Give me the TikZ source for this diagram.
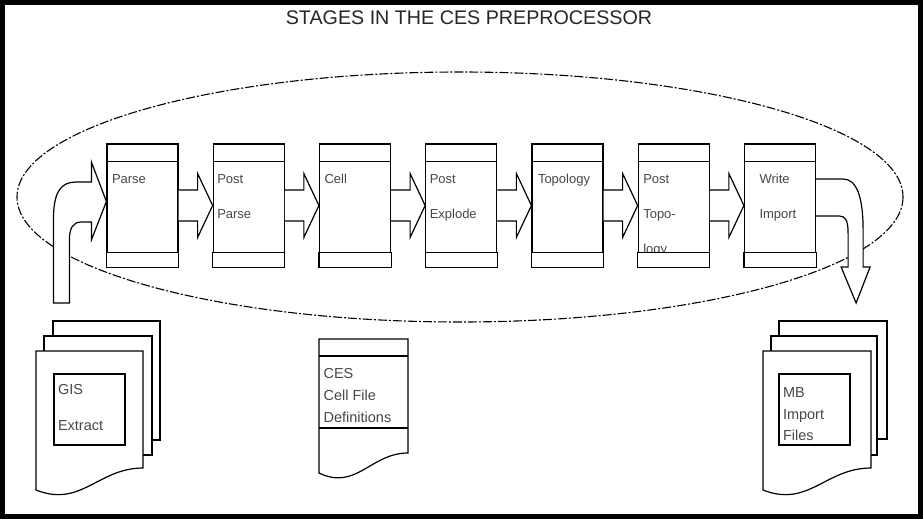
\documentclass[tikz,border=0pt]{standalone}
\usepackage{fontspec}
\setmainfont{Liberation Sans}
\usepackage{tikz}
\usetikzlibrary{calc}
\tikzstyle{stage}=[draw,fill=white,inner sep=0,minimum width=71pt,minimum height=123pt]
\tikzstyle{stagetxt}=[anchor=north west,inner sep=0,align=left,text=black!72,font=\fontsize{13}{35}\selectfont]
\tikzstyle{doctxt}=[anchor=north west,inner sep=0,align=left,text=black!72]
\tikzstyle{sheet}=[draw,fill=white]
\tikzstyle{blockarrow}=[draw,fill=white,line join=miter]
\tikzstyle{ring}=[dash pattern=on 9pt off 2pt on 2pt off 2pt,line width=1.1pt]

\begin{document}
\begin{tikzpicture}[x=1pt,y=-1pt,line width=1.2pt]
\newcommand{\stagestep}{106.25}
\newcommand{\bands}[1]{%
  \draw ($(#1.north west)+(0,18)$) -- ($(#1.north east)+(0,18)$);
  \draw[fill=white] ($(#1.south west)+(0,-15)$) rectangle (#1.south east);}
\newcommand{\steparrow}[2]{%
  \draw[blockarrow] ($(#1.east)+(0,-15.5)$) -- ++(19,0) -- ++(0,-16.5) -- (#2.west)
    -- ($(#1.east)+(19,32)$) -- ++(0,-16.5) -- ($(#1.east)+(0,15.5)$);}
\newcommand{\wavypage}[5]{%
  \draw[sheet] (#1,#2) -- (#3,#2) -- (#3,#4)
    .. controls ({#3-0.42*(#3-#1)},#4) and ({#1+0.42*(#3-#1)},#5+18) .. (#1,#5) -- cycle;}

\useasboundingbox (0,0) rectangle (923,519);
\draw[line width=5pt] (2.5,2.5) rectangle (920.5,516.5);
\node[text=black!85] (title) at (469,18) {\fontsize{19.7}{24}\selectfont STAGES IN THE CES PREPROCESSOR};

%the loop round the stages
\draw[ring] (460,197) ellipse [x radius=443, y radius=125];

\path (142.5,205.5) node[stage] (parse) {}
      ++(\stagestep,0) node[stage] (postparse) {}
      ++(\stagestep,0) node[stage] (cell) {}
      ++(\stagestep,0) node[stage] (postexplode) {}
      ++(\stagestep,0) node[stage] (topology) {}
      ++(\stagestep,0) node[stage] (posttopology) {}
      ++(\stagestep,0) node[stage] (writeimport) {};

\steparrow{parse}{postparse}
\steparrow{postparse}{cell}
\steparrow{cell}{postexplode}
\steparrow{postexplode}{topology}
\steparrow{topology}{posttopology}
\steparrow{posttopology}{writeimport}

% arrow in from the extract
\begin{scope}[shift={(parse.west)}]
\draw[blockarrow] (-53,97.5) -- (-53,15) .. controls (-53,-15) and (-45,-23.5) .. (-30,-23.5)
  -- (-15,-23.5) -- (-15,-43.5) -- (0,-4) -- (-15,34.5) -- (-15,16.5) -- (-25,16.5)
  .. controls (-33,16.5) and (-37,22) .. (-37,34.5) -- (-37,97.5) -- cycle;
\end{scope}

% arrow out to the import files
\begin{scope}[shift={(writeimport.east)}]
\draw[blockarrow] (0,-26.5) -- (27,-26.5) .. controls (40,-26.5) and (47,-10) .. (47,24.5)
  -- (47,61.5) -- (54,61.5) -- (40,97.5) -- (25,61.5) -- (32,61.5) -- (32,28)
  .. controls (32,14) and (29,10.5) .. (23,10.5) -- (0,10.5);
\end{scope}

\node[stagetxt] (parseT) at ($(parse.north west)+(5,30.5)$) {Parse};
\node[stagetxt] (postparseT) at ($(postparse.north west)+(4,30.5)$) {Post\\Parse};
\node[stagetxt] (cellT) at ($(cell.north west)+(5,30.5)$) {Cell};
\node[stagetxt] (postexplodeT) at ($(postexplode.north west)+(4,30.5)$) {Post\\Explode};
\node[stagetxt] (topologyT) at ($(topology.north west)+(6,30.5)$) {Topology};
\node[stagetxt] (posttopologyT) at ($(posttopology.north west)+(5,30.5)$) {Post\\Topo-\\logy};
\node[stagetxt] (writeimportT) at ($(writeimport.north west)+(15,30.5)$) {Write\\Import};

\bands{parse}
\bands{postparse}
\bands{cell}
\bands{postexplode}
\bands{topology}
\bands{posttopology}
\bands{writeimport}

% input and output files
\draw[sheet] (53,321) rectangle (160,440);
\draw[sheet] (44,336) rectangle (152,455);
\wavypage{36}{351}{143}{468}{490}
\node[draw,inner sep=0,minimum size=71pt] (gisbox) at (89.5,409.5) {};
\node[doctxt,font=\fontsize{14.5}{36}\selectfont] (gis) at ($(gisbox.north west)+(4,10.6)$) {GIS\\Extract};

\wavypage{319}{339}{408}{453}{473}
\draw (319,356) -- (408,356) (319,428) -- (408,428);
\node[doctxt,font=\fontsize{14.5}{22}\selectfont] (ces) at (323,367.6) {CES\\Cell File\\Definitions};

\draw[sheet] (779,321) rectangle (887,439);
\draw[sheet] (771,336) rectangle (877,455);
\wavypage{763}{351}{871}{468}{490}
\node[draw,inner sep=0,minimum size=71pt] (mbbox) at (814.5,409.5) {};
\node[doctxt,font=\fontsize{14.5}{21.5}\selectfont] (mb) at ($(mbbox.north west)+(4,13.6)$) {MB\\Import\\Files};
\end{tikzpicture}
\end{document}
